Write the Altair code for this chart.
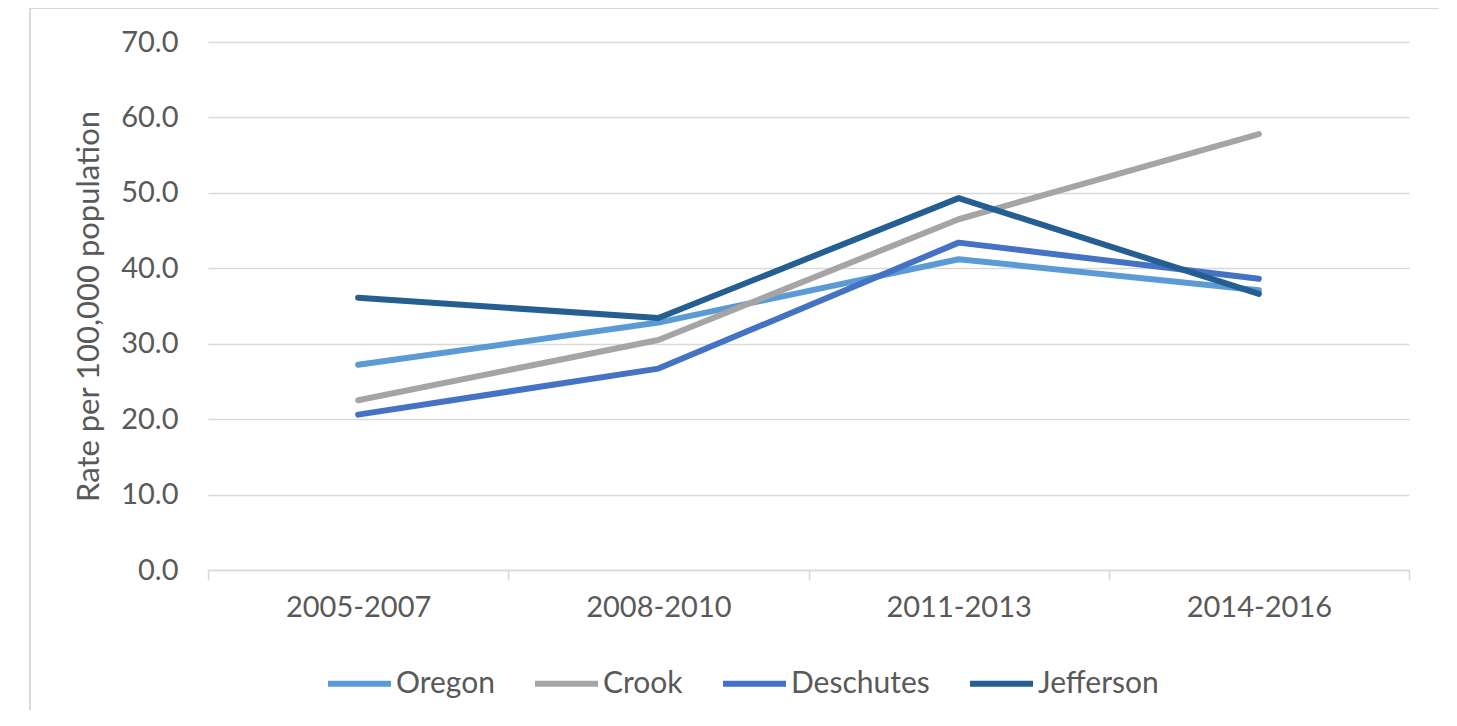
import altair as alt
import pandas as pd

periods = ["2005-2007", "2008-2010", "2011-2013", "2014-2016"]
series = ["Oregon", "Crook", "Deschutes", "Jefferson"]
oregon = [27.2, 32.8, 41.2, 37.1]
crook = [22.5, 30.5, 46.5, 57.8]
deschutes = [20.6, 26.7, 43.4, 38.6]
jefferson = [36.1, 33.4, 49.3, 36.6]
colors = ["#5B9BD5", "#A5A5A5", "#4472C4", "#255E91"]
y_ticks = [0, 10, 20, 30, 40, 50, 60, 70]

rows = []
for name, vals in zip(series, [oregon, crook, deschutes, jefferson]):
    for p, v in zip(periods, vals):
        rows.append({"period": p, "county": name, "rate": v})
df = pd.DataFrame(rows)

FONT = "Lato"
GREY = "#595959"
LIGHT = "#d9d9d9"

lines = alt.Chart(df).mark_line(strokeWidth=6, strokeCap="round", strokeJoin="round").encode(
    x=alt.X(
        "period:N",
        sort=periods,
        bandPosition=0.5,
        scale=alt.Scale(type="band", paddingInner=0, paddingOuter=0),
        axis=alt.Axis(
            title=None, labelAngle=0, tickBand="extent", grid=False,
            domainColor=LIGHT, domainWidth=1.5, tickColor=LIGHT, tickWidth=1.5, tickSize=10,
            labelFont=FONT, labelFontSize=29, labelColor=GREY, labelPadding=13,
        ),
    ),
    y=alt.Y(
        "rate:Q",
        scale=alt.Scale(domain=[0, 70], nice=False),
        axis=alt.Axis(
            values=y_ticks, format=".1f", title="Rate per 100,000 population",
            domain=False, ticks=False, grid=True, gridColor=LIGHT, gridWidth=1.5,
            labelFont=FONT, labelFontSize=29, labelColor=GREY, labelPadding=30,
            titleFont=FONT, titleFontSize=31, titleFontWeight="normal", titleColor=GREY, titlePadding=15,
        ),
    ),
    color=alt.Color(
        "county:N",
        sort=series,
        scale=alt.Scale(domain=series, range=colors),
        legend=alt.Legend(
            title=None, orient="none", legendX=117, legendY=607, direction="horizontal", columns=4,
            symbolType="stroke", symbolSize=3969, symbolStrokeWidth=6,
            labelFont=FONT, labelFontSize=30, labelColor=GREY, labelOffset=2, columnPadding=28,
        ),
    ),
)

border = alt.Chart(alt.Data(values=[{}])).mark_rect(filled=False, stroke=LIGHT, strokeWidth=2).encode(
    x=alt.value(-178), x2=alt.value(1235), y=alt.value(-34), y2=alt.value(720)
)

chart = alt.layer(border, lines).properties(
    width=1201,
    height=528,
    autosize=alt.AutoSizeParams(type="none"),
    padding={"left": 200, "top": 34, "right": 30, "bottom": 140},
    background="white",
).configure_view(stroke=None)

chart.save("out.html", embed_options={"renderer": "svg", "actions": False})
